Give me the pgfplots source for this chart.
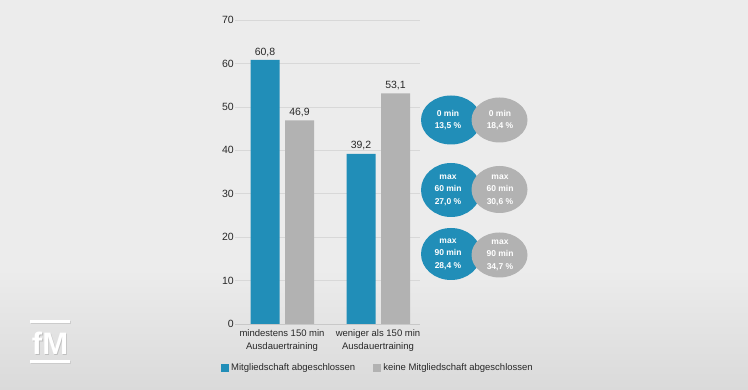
\documentclass[border=0pt]{standalone}
\usepackage{pgfplots}
\pgfplotsset{compat=1.18}
\usepackage{fontspec}
\setmainfont{Liberation Sans}
\definecolor{fmblue}{RGB}{33,142,184}
\definecolor{fmgrey}{RGB}{178,178,178}
\definecolor{txt}{RGB}{40,40,40}
\definecolor{gridc}{RGB}{216,216,216}
\definecolor{bg}{RGB}{236,236,236}
\definecolor{bgdark}{RGB}{218,218,218}
\definecolor{axisc}{RGB}{200,200,200}
\begin{document}
\begin{tikzpicture}[x=1pt,y=1pt]
% background
\fill[bg] (0,120) rectangle (748,390);
\shade[top color=bg, bottom color=bgdark] (0,0) rectangle (748,120.5);
\begin{axis}[
  at={(235pt,66pt)}, anchor=south west,
  scale only axis, width=185pt, height=304pt,
  xmin=-0.49, xmax=1.4375, ymin=0, ymax=70,
  ybar, bar width=29pt,
  xtick={0,1},
  xticklabels={{mindestens 150 min\\Ausdauertraining},{weniger als 150 min\\Ausdauertraining}},
  xticklabel style={align=center, font=\fontsize{9.5}{13}\selectfont, text=txt, inner sep=1pt, yshift=-4pt},
  ytick={0,10,...,70},
  yticklabel style={font=\fontsize{10.5}{12}\selectfont, text=txt, /pgf/number format/assume math mode=true, inner sep=1pt},
  major tick length=0pt,
  axis x line*=bottom, axis y line*=left,
  x axis line style={draw=axisc},
  y axis line style={draw=none},
  ymajorgrids, grid style={gridc, line width=0.6pt},
  nodes near coords,
  nodes near coords style={font=\fontsize{10.5}{12}\selectfont, text=txt, /pgf/number format/.cd, use comma, fixed, fixed zerofill, precision=1, assume math mode=true},
  legend columns=2,
  legend style={at={(-0.0757,-0.1447)}, anchor=west, draw=none, fill=none, inner sep=0pt,
    font=\fontsize{9.5}{11}\selectfont, text=txt,
    /tikz/every even column/.append style={column sep=16pt}},
  legend image code/.code={\fill[#1] (0pt,-4pt) rectangle (8pt,4pt);},
  clip=false,
]
\addplot[fill=fmblue, draw=none, bar shift=-17pt] coordinates {(0,60.8) (1,39.2)};
\addplot[fill=fmgrey, draw=none, bar shift=17.5pt] coordinates {(0,46.9) (1,53.1)};
\legend{Mitgliedschaft abgeschlossen, keine Mitgliedschaft abgeschlossen}
\end{axis}
% circles annotations
\begin{scope}[every node/.style={text=white, font=\bfseries\fontsize{8.5}{12.5}\selectfont, align=center, inner sep=0pt}]
\fill[fmblue] (451,270) ellipse [x radius=30, y radius=24.5];
\fill[fmgrey] (499.5,270) ellipse [x radius=28, y radius=22.5];
\node at (448,270) {0 min\\13,5 \%};
\node at (500,270) {0 min\\18,4 \%};
\fill[fmblue] (451,200) ellipse [x radius=30, y radius=27];
\fill[fmgrey] (499.5,200.5) ellipse [x radius=28, y radius=23.5];
\node at (448,200) {max\\60 min\\27,0 \%};
\node at (500,200) {max\\60 min\\30,6 \%};
\fill[fmblue] (451,136) ellipse [x radius=30, y radius=26];
\fill[fmgrey] (499.5,135) ellipse [x radius=28, y radius=22.5];
\node at (448,136) {max\\90 min\\28,4 \%};
\node at (500,135) {max\\90 min\\34,7 \%};
\end{scope}
% fM logo
\fill[black!20] (31,66) rectangle (71,68.5);
\fill[white] (30,67) rectangle (70,69.5);
\fill[black!20] (31,26) rectangle (71,28.5);
\fill[white] (30,27) rectangle (70,29.5);
\node[text=black!25, font=\bfseries\fontsize{31}{31}\selectfont, inner sep=0pt] at (51,46) {fM};
\node[text=white, font=\bfseries\fontsize{31}{31}\selectfont, inner sep=0pt] at (50,47) {fM};
\end{tikzpicture}
\end{document}
